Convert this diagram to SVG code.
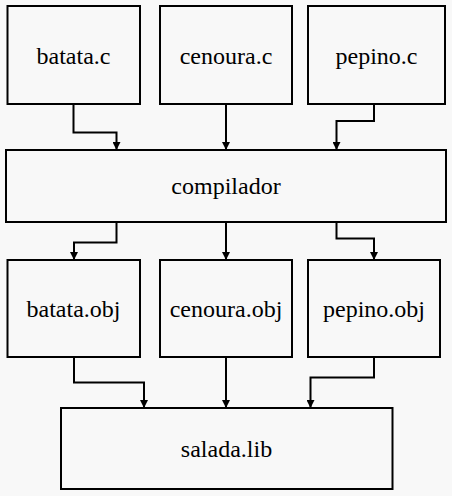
<svg xmlns="http://www.w3.org/2000/svg" width="452" height="496" viewBox="0 0 452 496">
<defs>
<marker id="ah" viewBox="0 0 8 8" refX="8" refY="4" markerWidth="8" markerHeight="8" markerUnits="userSpaceOnUse" orient="auto">
<path d="M0,0L8,4L0,8Z" fill="#000"/>
</marker>
</defs>
<rect width="452" height="496" fill="#f8f8f8"/>
<g id="connectors" fill="none" stroke="#000" stroke-width="2" marker-end="url(#ah)">
<path d="M73.5,104V132.5H116.5V150"/>
<path d="M226,104V150"/>
<path d="M374,104V121H336.5V150"/>
<path d="M116.5,222V242.5H74V260"/>
<path d="M226,222V260"/>
<path d="M336.5,222V238.5H374V260"/>
<path d="M74,357V382.5H144V408"/>
<path d="M226,357V408"/>
<path d="M374,357V377.5H310.5V408"/>
</g>
<g id="nodes" fill="#f8f8f8" stroke="#000" stroke-width="2">
<g id="batata_c"><rect x="7.5" y="6" width="132.5" height="98"/><text x="73.5" y="64" font-family="Liberation Serif" font-size="24" text-anchor="middle" fill="#000" stroke="none">batata.c</text></g>
<g id="cenoura_c"><rect x="160" y="6" width="132" height="98"/><text x="226" y="64" font-family="Liberation Serif" font-size="24" text-anchor="middle" fill="#000" stroke="none">cenoura.c</text></g>
<g id="pepino_c"><rect x="308" y="6" width="137" height="98"/><text x="376.5" y="64" font-family="Liberation Serif" font-size="24" text-anchor="middle" fill="#000" stroke="none">pepino.c</text></g>
<g id="compilador"><rect x="6" y="150" width="440" height="72"/><text x="226" y="194" font-family="Liberation Serif" font-size="24" text-anchor="middle" fill="#000" stroke="none">compilador</text></g>
<g id="batata_obj"><rect x="7.5" y="260" width="132.5" height="97"/><text x="73.5" y="317" font-family="Liberation Serif" font-size="24" text-anchor="middle" fill="#000" stroke="none">batata.obj</text></g>
<g id="cenoura_obj"><rect x="160" y="260" width="132" height="97"/><text x="226" y="317" font-family="Liberation Serif" font-size="24" text-anchor="middle" fill="#000" stroke="none">cenoura.obj</text></g>
<g id="pepino_obj"><rect x="308" y="260" width="132" height="97"/><text x="374" y="317" font-family="Liberation Serif" font-size="24" text-anchor="middle" fill="#000" stroke="none">pepino.obj</text></g>
<g id="salada_lib"><rect x="61" y="408" width="331.5" height="81"/><text x="226.5" y="457" font-family="Liberation Serif" font-size="24" text-anchor="middle" fill="#000" stroke="none">salada.lib</text></g>
</g>
</svg>
